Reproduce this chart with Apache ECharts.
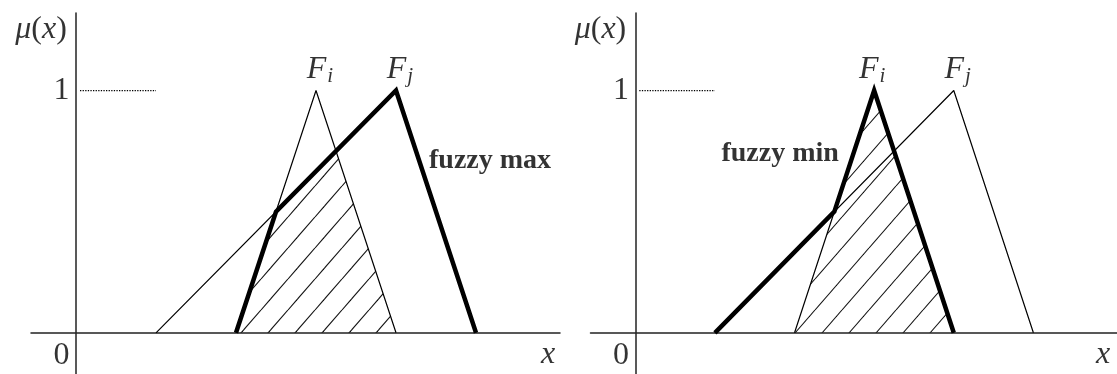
<!DOCTYPE html>
<html>
<head>
<meta charset="utf-8">
<script src="https://cdn.jsdelivr.net/npm/echarts@6.0.0/dist/echarts.min.js"></script>
<style>
  html, body { margin: 0; padding: 0; background: #fff; }
  #chart { width: 1117px; height: 374px; }
</style>
</head>
<body>
<div id="chart"></div>
<script>
// membership functions (x positions, mu values)
const fiX = [8, 12, 16]
const fiMu = [0, 1, 0]
const fjX = [4, 16, 20]
const fjMu = [0, 1, 0]
// fuzzy max (left panel) and fuzzy min (right panel)
const maxX = [8, 10, 16, 20]
const maxMu = [0, 0.5, 1, 0]
const minX = [4, 10, 12, 16]
const minMu = [0, 0.5, 1, 0]
// hatched regions
const hatchLeftX = [8, 10, 13, 16]
const hatchLeftMu = [0, 0.5, 0.75, 0]
const hatchRightX = fiX
const hatchRightMu = fiMu
// dotted guide at mu = 1
const guideX = [0.2, 4]
const guideMu = [1, 1]
const yTicks = ['0', '1']

const serif = 'Liberation Serif'

function zip(xs, ys) {
    return xs.map((x, i) => [x, ys[i]])
}

// diagonal hatch tile, phase c so lines sit where the picture has them
function hatch(c) {
    const W = 27, H = 31
    const cv = document.createElement('canvas')
    cv.width = W
    cv.height = H
    const ctx = cv.getContext('2d')
    ctx.strokeStyle = '#111'
    ctx.lineWidth = 1.1
    for (let k = -1; k <= 2; k++) {
        ctx.beginPath()
        ctx.moveTo(c + k * W, 0)
        ctx.lineTo(c + (k - 1) * W, H)
        ctx.stroke()
    }
    return { image: cv, repeat: 'repeat' }
}

function thin(data, idx) {
    return {
        type: 'line', xAxisIndex: idx, yAxisIndex: idx, data: data,
        showSymbol: false, silent: true, z: 3,
        lineStyle: { color: '#000', width: 1.2 }
    }
}
function bold(data, idx) {
    return {
        type: 'line', xAxisIndex: idx, yAxisIndex: idx, data: data,
        showSymbol: false, silent: true, z: 4,
        lineStyle: { color: '#000', width: 4.5, join: 'miter' }
    }
}
function area(data, idx, pattern) {
    return {
        type: 'line', xAxisIndex: idx, yAxisIndex: idx, data: data,
        showSymbol: false, silent: true, z: 1,
        lineStyle: { width: 0 },
        areaStyle: { color: pattern, opacity: 1 }
    }
}
function guide(idx) {
    return {
        type: 'line', xAxisIndex: idx, yAxisIndex: idx, data: zip(guideX, guideMu),
        showSymbol: false, silent: true,
        lineStyle: { color: '#000', width: 1.3, type: [1.3, 1.3] }
    }
}

const rich = {
    it: { fontFamily: serif, fontStyle: 'italic', fontSize: 32, color: '#000' },
    up: { fontFamily: serif, fontSize: 32, color: '#000' },
    sub: { fontFamily: serif, fontStyle: 'italic', fontSize: 21, color: '#000', padding: [14, 0, 0, 1] },
    b: { fontFamily: serif, fontWeight: 'bold', fontSize: 28, color: '#000' }
}

function note(x, y, text, align) {
    return {
        value: [x, y],
        label: { show: true, position: 'inside', formatter: text, align: align || 'center', verticalAlign: 'middle', rich: rich }
    }
}
function notes(idx, items) {
    return {
        type: 'scatter', xAxisIndex: idx, yAxisIndex: idx, symbolSize: 1, silent: true, z: 5,
        itemStyle: { color: 'transparent' },
        data: items
    }
}

function xAxisFor(idx) {
    return {
        type: 'value', gridIndex: idx, min: -2.25, max: 24.2,
        axisLine: { onZero: true, lineStyle: { color: '#222', width: 1.5 } },
        axisTick: { show: false }, axisLabel: { show: false }, splitLine: { show: false }
    }
}
function yAxisFor(idx) {
    return {
        type: 'value', gridIndex: idx, min: -0.17, max: 1.32,
        axisLine: { show: true, onZero: true, lineStyle: { color: '#222', width: 1.5 } },
        axisTick: { show: false }, splitLine: { show: false }, axisLabel: { show: false }
    }
}

function panelNotes(idx, xEnd, fiPos, fuzzyPos, fuzzyText) {
    return notes(idx, [
        note(-1.75, 1.25, '{it|μ}{up|(}{it|x}{up|)}'),
        note(-0.72, -0.095, '{up|' + yTicks[0] + '}'),
        note(-0.72, 1.0, '{up|' + yTicks[1] + '}'),
        note(xEnd, -0.09, '{it|x}'),
        note(fiPos, 1.087, '{it|F}{sub|i}'),
        note(16.2, 1.087, '{it|F}{sub|j}'),
        note(fuzzyPos[0], fuzzyPos[1], '{b|' + fuzzyText + '}', 'left')
    ])
}

const chart = echarts.init(document.getElementById('chart'), null, { renderer: 'canvas' })
chart.setOption({
    animation: false,
    grid: [
        { left: 31, top: 13, width: 529, height: 361 },
        { left: 590.5, top: 13, width: 529, height: 361 }
    ],
    xAxis: [xAxisFor(0), xAxisFor(1)],
    yAxis: [yAxisFor(0), yAxisFor(1)],
    series: [
        area(zip(hatchLeftX, hatchLeftMu), 0, hatch(18)),
        thin(zip(fiX, fiMu), 0),
        thin(zip(fjX, fjMu), 0),
        bold(zip(maxX, maxMu), 0),
        guide(0),
        panelNotes(0, 23.6, 12.2, [17.65, 0.71], 'fuzzy max'),

        area(zip(hatchRightX, hatchRightMu), 1, hatch(5)),
        thin(zip(fiX, fiMu), 1),
        thin(zip(fjX, fjMu), 1),
        bold(zip(minX, minMu), 1),
        guide(1),
        panelNotes(1, 23.5, 11.9, [4.33, 0.74], 'fuzzy min')
    ]
})
</script>
</body>
</html>
